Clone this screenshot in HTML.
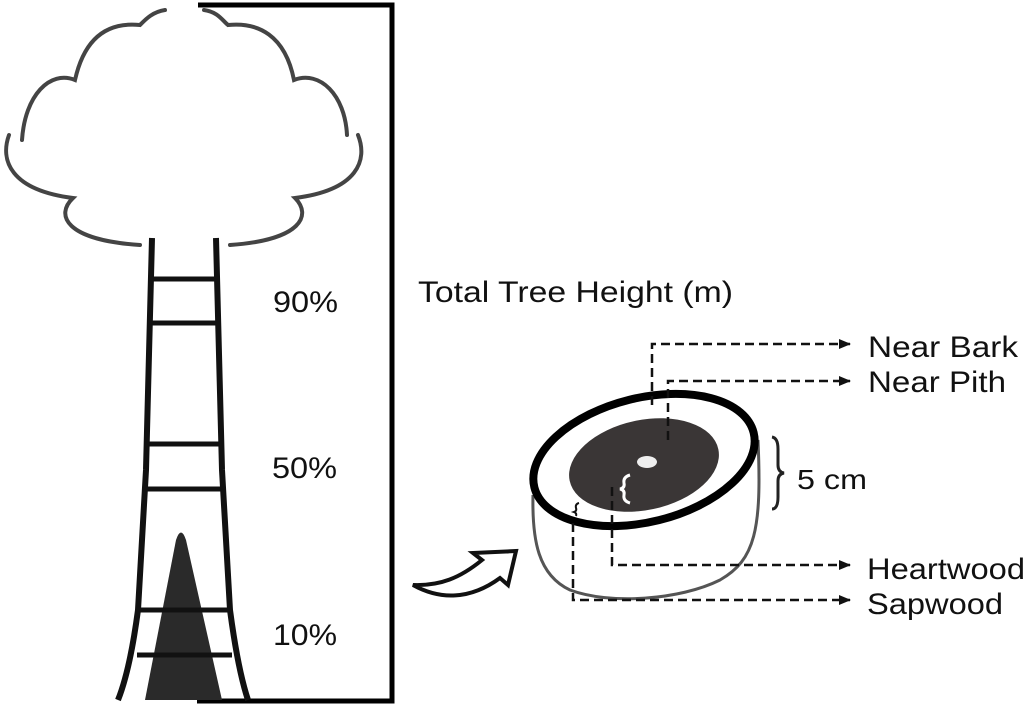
<!DOCTYPE html>
<html><head><meta charset="utf-8"><style>
html,body{margin:0;padding:0;background:#fff;width:1027px;height:707px;overflow:hidden}
svg text{font-family:"Liberation Sans",Arial,sans-serif;fill:#111}
</style></head><body>
<svg width="1027" height="707" viewBox="0 0 1027 707" xmlns="http://www.w3.org/2000/svg">
<defs><marker id="ah" markerWidth="12" markerHeight="10" refX="11" refY="5" orient="auto" markerUnits="userSpaceOnUse"><path d="M0,0 L12,5 L0,10 Z" fill="#111"/></marker></defs>
<g fill="none" stroke="#444" stroke-width="4" stroke-linecap="round">
<path d="M165,10 C152,12 145,20 140,25 C110,22 85,35 75,80 C50,70 25,95 22,140"/>
<path d="M9,135 C0,160 10,190 73,198 C55,215 65,240 140,245"/>
<path d="M204,10 C218,12 222,20 228,25 C258,22 285,35 294,80 C320,70 345,95 347,135"/>
<path d="M358,135 C368,160 358,190 295,198 C312,215 302,240 230,245"/>
</g>
<path d="M198,5 H392 V701 H197" fill="none" stroke="#000" stroke-width="5"/>
<path d="M145,700 L176,540 Q181,525 186,540 L222,700 Z" fill="#2a2a2a"/>
<g fill="none" stroke="#111" stroke-width="6">
<path d="M152,238 L146,470 L138,610 Q130,670 118,700"/>
<path d="M216,238 L222,470 L230,610 Q238,670 248,700"/>
<path d="M151,279 H217 M151,323 H217 M146,444 H222 M146,489 H223 M138,610 H231 M137,655 H232" stroke-width="5"/>
</g>
<text x="273" y="312" font-size="30" textLength="65" lengthAdjust="spacingAndGlyphs">90%</text>
<text x="272" y="478" font-size="30" textLength="65" lengthAdjust="spacingAndGlyphs">50%</text>
<text x="273" y="645" font-size="30" textLength="64" lengthAdjust="spacingAndGlyphs">10%</text>
<text x="418" y="302" font-size="30" textLength="315" lengthAdjust="spacingAndGlyphs">Total Tree Height (m)</text>
<path d="M413,585 C440,600 470,600 500,578 L508,585 L516,551 L473,553 L482,560 C460,578 440,586 413,585 Z" fill="#fff" stroke="#111" stroke-width="4"/>
<path d="M533,495 C532,540 538,575 570,590 C610,605 680,600 720,580 C755,560 762,530 758,440" fill="#fff" stroke="#555" stroke-width="3"/>
<ellipse cx="644" cy="460" rx="113" ry="62" transform="rotate(-14 644 460)" fill="#fff" stroke="#000" stroke-width="8"/>
<ellipse cx="644" cy="465" rx="76" ry="45" transform="rotate(-12 644 465)" fill="#3a3636"/>
<ellipse cx="647" cy="462" rx="10" ry="6" fill="#eee"/>
<path d="M630,475 q-7,2 -6,8 q1,5 -4,6 q5,1 4,6 q-1,6 6,8" fill="none" stroke="#fff" stroke-width="3"/>
<path d="M579,503 q-4,1 -3,5 q1,3 -2,4 q3,1 2,4" fill="none" stroke="#111" stroke-width="2"/>
<path d="M772,437 q6,1 6,12 v16 q0,7 6,8 q-6,1 -6,8 v16 q0,12 -6,12" fill="none" stroke="#222" stroke-width="3"/>
<g fill="none" stroke="#111" stroke-width="2.5" stroke-dasharray="9,5">
<path d="M652,405 V344 H850" marker-end="url(#ah)"/>
<path d="M668,440 V381 H850" marker-end="url(#ah)"/>
<path d="M612,487 V565 H850" marker-end="url(#ah)"/>
<path d="M573,523 V600 H850" marker-end="url(#ah)"/>
</g>
<text x="868" y="357" font-size="30" textLength="150" lengthAdjust="spacingAndGlyphs">Near Bark</text>
<text x="868" y="392" font-size="30" textLength="138" lengthAdjust="spacingAndGlyphs">Near Pith</text>
<text x="797" y="489" font-size="28" textLength="70" lengthAdjust="spacingAndGlyphs">5 cm</text>
<text x="867" y="579" font-size="30" textLength="158" lengthAdjust="spacingAndGlyphs">Heartwood</text>
<text x="867" y="614" font-size="30" textLength="136" lengthAdjust="spacingAndGlyphs">Sapwood</text>
</svg>
</body></html>
